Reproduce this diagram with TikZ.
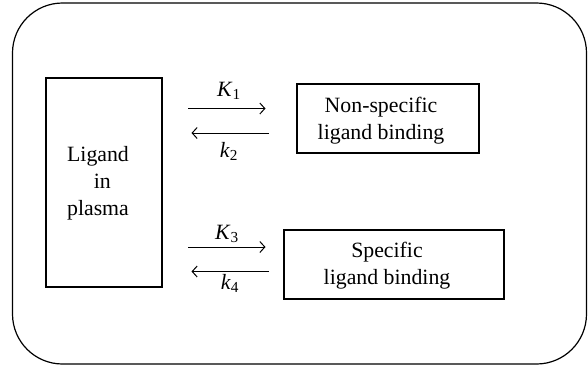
\documentclass[tikz,border=0pt]{standalone}
\usepackage{fontspec}
\setmainfont{Liberation Serif}
\usetikzlibrary{arrows.meta}
\begin{document}
\begin{tikzpicture}[x=1pt,y=-1pt,
  every node/.style={font=\fontsize{21.8}{27}\selectfont},
  boxnode/.style={draw,line width=1.1pt,inner sep=0pt},
  txt/.style={align=center,inner sep=0pt},
  rate/.style={line width=1pt,-{Straight Barb[length=5pt,width=11pt,line width=1pt]}}]
  \useasboundingbox (0,0) rectangle (588,368);
  % outer frame
  \draw[line width=1.2pt,rounded corners=50pt] (12.5,3) rectangle (586.5,364);
  % compartments
  \node[boxnode,minimum width=116pt,minimum height=209pt] (plasma) at (104,182.5) {};
  \node[txt] (plasmatxt) at (98,183) {Ligand\\\hspace*{0.4em}in\\plasma};
  \node[boxnode,minimum width=182pt,minimum height=69pt] (nonspec) at (388,118.5) {};
  \node[txt] (nonspectxt) at (381,121) {Non-specific\\ligand binding};
  \node[boxnode,minimum width=220pt,minimum height=69pt] (spec) at (394,264.5) {};
  \node[txt] (spectxt) at (387,266) {Specific\\ligand binding};
  % rate arrows
  \coordinate (a1s) at (188,108.5); \coordinate (a1e) at (265.5,108.5);
  \coordinate (a2s) at (269,133); \coordinate (a2e) at (191.5,133);
  \coordinate (a3s) at (188,247); \coordinate (a3e) at (265.5,247);
  \coordinate (a4s) at (269,271.5); \coordinate (a4e) at (191.5,271.5);
  \draw[rate] (a1s) -- (a1e);
  \draw[rate] (a2s) -- (a2e);
  \draw[rate] (a3s) -- (a3e);
  \draw[rate] (a4s) -- (a4e);
  \node (K1) at (229,91) {\textit{K}\textsubscript{1}};
  \node (k2) at (229,151) {\textit{k}\textsubscript{2}};
  \node (K3) at (227,234) {\textit{K}\textsubscript{3}};
  \node (k4) at (230,283) {\textit{k}\textsubscript{4}};
\end{tikzpicture}
\end{document}
